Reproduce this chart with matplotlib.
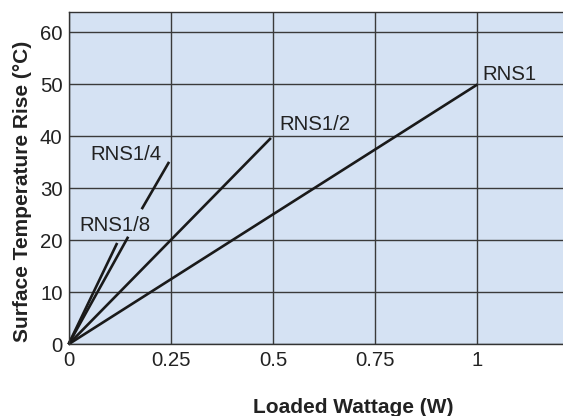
import numpy as np
import matplotlib
matplotlib.use("Agg")
import matplotlib.pyplot as plt

plt.rcParams['font.family'] = ['Liberation Sans', 'DejaVu Sans']

# Data (segments separated by NaN where the line is broken)
w_rns1_8 = [0, 0.119]
t_rns1_8 = [0, 19.5]
w_rns1_4 = [0, 0.146, np.nan, 0.179, 0.246]
t_rns1_4 = [0, 20.7, np.nan, 26.0, 35.1]
w_rns1_2 = [0, 0.495]
t_rns1_2 = [0, 39.7]
w_rns1 = [0, 1.0]
t_rns1 = [0, 50.0]

labels = ["RNS1/8", "RNS1/4", "RNS1/2", "RNS1"]
label_pos = [(0.026, 21.8), (0.053, 35.4), (0.515, 41.2), (1.011, 50.8)]

x_ticks = [0, 0.25, 0.5, 0.75, 1]
x_tick_labels = ["0", "0.25", "0.5", "0.75", "1"]
y_ticks = [0, 10, 20, 30, 40, 50, 60]

W, H = 563, 416
fig = plt.figure(figsize=(W / 100, H / 100), dpi=100)
left_px, right_px, top_px, bottom_px = 68.5, 641.0, 11.7, 344.3
ax = fig.add_axes([left_px / W, 1 - bottom_px / H,
                   (right_px - left_px) / W, (bottom_px - top_px) / H])
ax.set_facecolor('#d5e2f3')
ax.set_xlim(0, 1.4)
ax.set_ylim(0, 64)

ax.set_xticks(x_ticks)
ax.set_xticklabels(x_tick_labels)
ax.set_yticks(y_ticks)
ax.tick_params(axis='both', length=0, labelsize=14.7, colors='#222222')
ax.tick_params(axis='x', pad=5)
ax.tick_params(axis='y', pad=4.3)

ax.grid(True, color='#3a3a3a', linewidth=1.0)
ax.set_axisbelow(True)
for s in ax.spines.values():
    s.set_color('#333333')
    s.set_linewidth(1.0)

lc = '#1a1a1a'
for wx, ty in [(w_rns1_8, t_rns1_8), (w_rns1_4, t_rns1_4),
               (w_rns1_2, t_rns1_2), (w_rns1, t_rns1)]:
    ax.plot(wx, ty, color=lc, linewidth=1.9, solid_capstyle='butt', clip_on=False)

for lab, (lx, ly) in zip(labels, label_pos):
    ax.text(lx, ly, lab, fontsize=14.7, color='#222222', ha='left', va='baseline')

fig.text(353 / W, 1 - 413 / H, "Loaded Wattage (W)", fontsize=15, fontweight='bold',
         ha='center', va='baseline', color='#222222')
fig.text(28.3 / W, 1 - 191.5 / H, "Surface Temperature Rise (°C)", fontsize=15,
         fontweight='bold', rotation=90, rotation_mode='anchor',
         ha='center', va='baseline', color='#222222')

fig.savefig("out.png", dpi=100)
